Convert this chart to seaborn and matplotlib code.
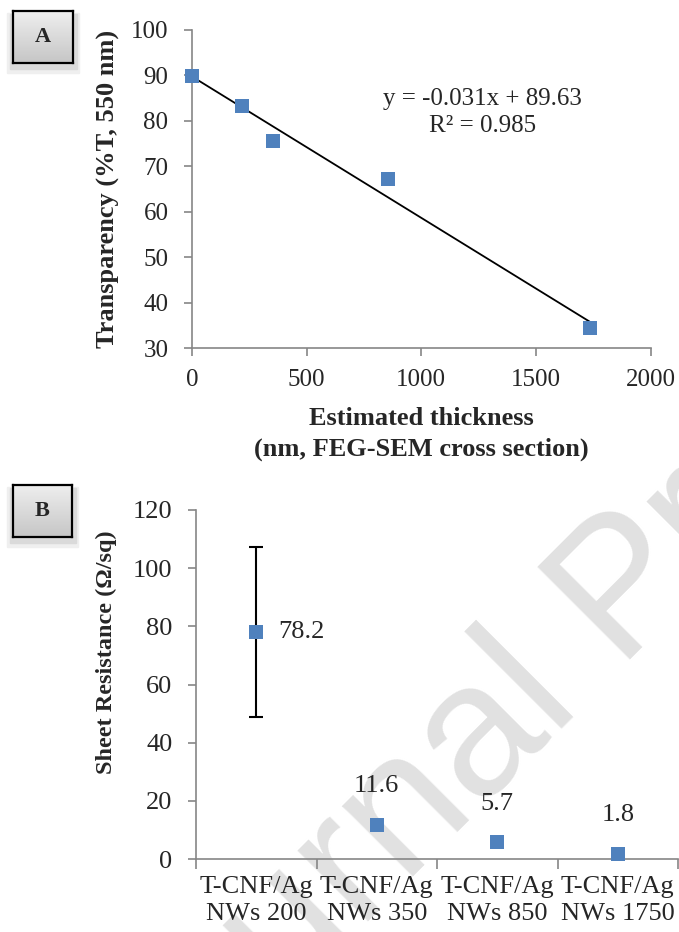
import numpy as np
import pandas as pd
import matplotlib
matplotlib.use("Agg")
import matplotlib.pyplot as plt
import seaborn as sns
from matplotlib.patches import Rectangle
from matplotlib.colors import LinearSegmentedColormap
from matplotlib.ticker import FixedLocator, FixedFormatter, NullFormatter

# panel A: transparency vs thickness
thickness = [0, 216, 352, 855, 1734]
transparency = [89.9, 83.3, 75.6, 67.2, 34.4]
fit_text = "y = -0.031x + 89.63\nR² = 0.985"

# panel B: sheet resistance per sample
samples = ["T-CNF/Ag\nNWs 200", "T-CNF/Ag\nNWs 350", "T-CNF/Ag\nNWs 850", "T-CNF/Ag\nNWs 1750"]
resistance = [78.2, 11.6, 5.7, 1.8]
resistance_err = [29.2, 0, 0, 0]
res_labels = ["78.2", "11.6", "5.7", "1.8"]

sns.set_style("ticks")
plt.rcParams['font.family'] = ['Liberation Serif', 'DejaVu Serif']
plt.rcParams['axes.facecolor'] = 'none'

blue = '#4F81BD'
grey = '#868686'
box_cmap = LinearSegmentedColormap.from_list('box', ['#efefef', '#c6c6c6'])

fig = plt.figure(figsize=(6.79, 9.32), dpi=100)

# watermark behind everything
fig.text(0.212, -0.2285, "Journal Pre-proof", family='Liberation Sans', fontsize=136,
         color='#e1e1e1', rotation=45, rotation_mode='anchor', ha='left', va='baseline', zorder=-5)


def panel_box(x0, y0, w, h, letter):
    # soft shadow
    fig.patches.append(Rectangle((x0 - 0.008, y0 - 0.010), w + 0.016, h + 0.008,
                                 transform=fig.transFigure, color='#efefef', zorder=-1))
    fig.patches.append(Rectangle((x0 - 0.004, y0 - 0.006), w + 0.010, h + 0.003,
                                 transform=fig.transFigure, color='#dadada', zorder=-1))
    bx = fig.add_axes([x0, y0, w, h])
    grad = np.linspace(0, 1, 50).reshape(-1, 1)
    bx.imshow(grad, aspect='auto', cmap=box_cmap, extent=[0, 1, 0, 1])
    bx.set_xticks([])
    bx.set_yticks([])
    for sp in bx.spines.values():
        sp.set_color('black')
        sp.set_linewidth(1.6)
    bx.text(0.5, 0.5, letter, ha='center', va='center', fontsize=16, fontweight='bold')


panel_box(0.0187, 0.9321, 0.0893, 0.0561, "A")
panel_box(0.0187, 0.4235, 0.0878, 0.0561, "B")

# ---- panel A ----
axA = fig.add_axes([0.2828, 0.6266, 0.6754, 0.3415])
dfA = pd.DataFrame({'thickness': thickness, 'transparency': transparency})
sns.regplot(data=dfA, x='thickness', y='transparency', ax=axA, ci=None, marker='s', color=blue,
            scatter_kws={'s': 100, 'linewidths': 0, 'zorder': 3, 'clip_on': False, 'alpha': 1},
            line_kws={'color': 'black', 'lw': 1.3, 'zorder': 2})
axA.set_xlim(0, 2000)
axA.set_ylim(30, 100)
axA.set_xticks(np.arange(0, 2001, 500))
axA.set_yticks(np.arange(30, 101, 10))
sns.despine(ax=axA)
for sp in ['left', 'bottom']:
    axA.spines[sp].set_color(grey)
    axA.spines[sp].set_linewidth(1.2)
axA.tick_params(axis='x', direction='out', length=6, width=1.2, color=grey, labelsize=18, pad=9)
axA.tick_params(axis='y', direction='out', length=6, width=1.2, color=grey, labelsize=18, pad=11)
axA.set_xlabel("Estimated thickness\n(nm, FEG-SEM cross section)", fontsize=19,
               fontweight='bold', linespacing=1.45)
axA.set_ylabel("Transparency (%T, 550 nm)", fontsize=19, fontweight='bold')
axA.xaxis.set_label_coords(0.5, -0.185)
axA.yaxis.set_label_coords(-0.157, 0.5)
axA.text(1265, 81.7, fit_text, ha='center', va='center', fontsize=18, multialignment='center',
         linespacing=1.3)

# ---- panel B ----
axB = fig.add_axes([0.2887, 0.0783, 0.7099, 0.3745])
dfB = pd.DataFrame({'sample': samples, 'resistance': resistance, 'err': resistance_err})
pos = np.arange(len(samples))
mask = dfB['err'] > 0
axB.errorbar(pos[mask], dfB['resistance'][mask], yerr=dfB['err'][mask], fmt='none',
             ecolor='black', elinewidth=1.5, capsize=5, capthick=1.5, zorder=2)
sns.scatterplot(data=dfB, x='sample', y='resistance', marker='s', s=100, color=blue,
                linewidth=0, ax=axB, zorder=3, clip_on=False)
for i, lab in enumerate(res_labels):
    if i == 0:
        axB.annotate(lab, (pos[i], resistance[i]), xytext=(16, 0), textcoords='offset points',
                     ha='left', va='center', fontsize=19)
    else:
        axB.annotate(lab, (pos[i], resistance[i]), xytext=(0, 28), textcoords='offset points',
                     ha='center', va='center', fontsize=19)
axB.set_xlim(-0.5, len(samples) - 0.5)
axB.set_ylim(0, 120)
axB.set_yticks(np.arange(0, 121, 20))
axB.xaxis.set_major_locator(FixedLocator(np.arange(-0.5, len(samples), 1)))
axB.xaxis.set_major_formatter(NullFormatter())
axB.xaxis.set_minor_locator(FixedLocator(pos))
axB.xaxis.set_minor_formatter(FixedFormatter(samples))
sns.despine(ax=axB)
for sp in ['left', 'bottom']:
    axB.spines[sp].set_color(grey)
    axB.spines[sp].set_linewidth(1.2)
axB.tick_params(axis='x', which='major', direction='out', length=7, width=1.2, color=grey)
axB.tick_params(axis='x', which='minor', length=0, labelsize=19, pad=12)
axB.tick_params(axis='y', direction='out', length=6, width=1.2, color=grey, labelsize=19, pad=11)
for lab in axB.xaxis.get_minorticklabels():
    lab.set_linespacing(1.3)
axB.set_xlabel("")
axB.set_ylabel("Sheet Resistance (Ω/sq)", fontsize=17.5, fontweight='bold')
axB.yaxis.set_label_coords(-0.164, 0.594)

fig.savefig("out.png", dpi=100)
